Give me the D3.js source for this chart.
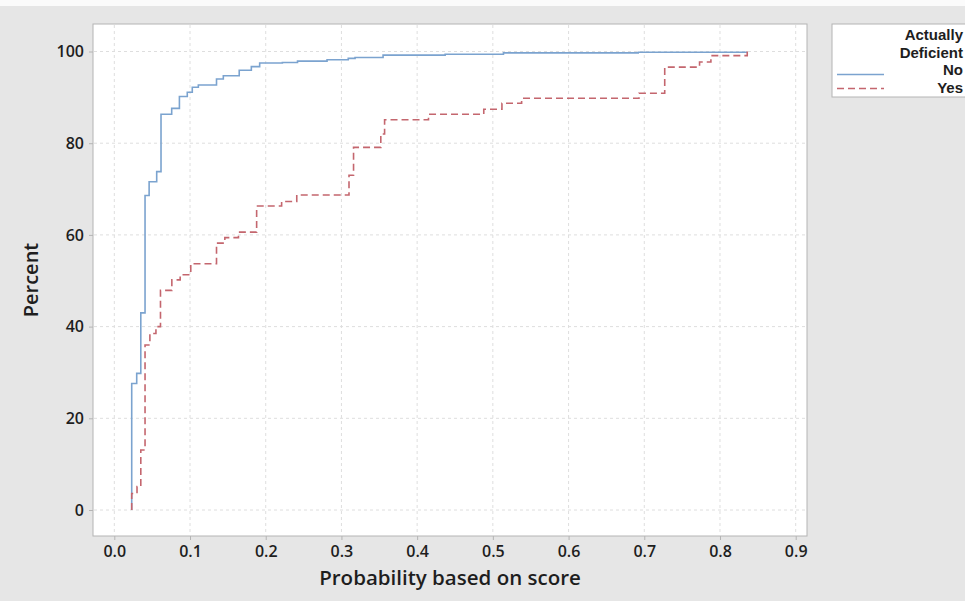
<!DOCTYPE html>
<html>
<head>
<meta charset="utf-8">
<script src="https://cdn.jsdelivr.net/npm/d3@7"></script>
<style>
  body { margin: 0; background: #e6e6e6; }
  svg text { font-family: "Open Sans", "Noto Sans", sans-serif; font-weight: 600; fill: #1e1e1e; }
  svg text.legend-text { font-family: "Liberation Sans", Arial, sans-serif; font-weight: 700; }
</style>
</head>
<body>
<div id="chart"></div>
<script>
// step points: percent reached at each probability (empirical CDF)
var noX  = [0.023, 0.023, 0.0296, 0.035, 0.0406, 0.046, 0.056, 0.0617, 0.0758, 0.086, 0.0964, 0.103, 0.111,
            0.135, 0.144, 0.165, 0.181, 0.192, 0.222, 0.242, 0.281, 0.309, 0.318, 0.355, 0.437, 0.514, 0.692, 0.835, 0.835];
var noY  = [0, 27.6, 29.8, 43.0, 68.6, 71.6, 73.8, 86.3, 87.6, 90.2, 91.1, 92.2, 92.7,
            94.0, 94.7, 95.9, 96.7, 97.5, 97.6, 97.9, 98.2, 98.5, 98.7, 99.2, 99.4, 99.7, 99.85, 100, 100];

var yesX = [0.023, 0.023, 0.030, 0.035, 0.0406, 0.047, 0.055, 0.061, 0.076, 0.087, 0.101, 0.135, 0.146, 0.164,
            0.188, 0.221, 0.241, 0.310, 0.316, 0.352, 0.357, 0.415, 0.488, 0.512, 0.538, 0.693, 0.727, 0.773, 0.788, 0.836, 0.836];
var yesY = [0, 3.6, 5.1, 13.1, 36.0, 38.5, 40.0, 47.9, 50.2, 51.3, 53.7, 58.2, 59.4, 60.6,
            66.3, 67.3, 68.7, 73.0, 79.1, 82.0, 85.1, 86.3, 87.4, 88.7, 89.8, 90.9, 96.6, 97.7, 99.1, 99.1, 100];

var xTicks = [0, 0.1, 0.2, 0.3, 0.4, 0.5, 0.6, 0.7, 0.8, 0.9];
var yTicks = [0, 20, 40, 60, 80, 100];
var legendTitle = ["Actually", "Deficient"];
var seriesNames = ["No", "Yes"];

var svgWidth = 965, svgHeight = 601;
var frame = { left: 93, top: 24, right: 807, bottom: 536 };

var svg = d3.select("#chart").append("svg")
    .attr("width", svgWidth)
    .attr("height", svgHeight);

svg.append("rect").attr("width", svgWidth).attr("height", svgHeight).attr("fill", "#e6e6e6");
svg.append("rect").attr("width", svgWidth).attr("height", 6).attr("fill", "#fbfbfb");

var x = d3.scaleLinear().domain([0, 0.9]).range([114.3, 795.7]);
var y = d3.scaleLinear().domain([0, 100]).range([510, 51.5]);

// plot area
svg.append("rect")
    .attr("x", frame.left).attr("y", frame.top)
    .attr("width", frame.right - frame.left).attr("height", frame.bottom - frame.top)
    .attr("fill", "#ffffff").attr("stroke", "#b4b4b4").attr("stroke-width", 1);

// gridlines
var grid = svg.append("g").attr("stroke", "#dedede").attr("stroke-dasharray", "3,3").attr("stroke-width", 1);
grid.selectAll(".gx").data(xTicks).enter().append("line")
    .attr("x1", d => x(d)).attr("x2", d => x(d))
    .attr("y1", frame.top + 1).attr("y2", frame.bottom - 1);
grid.selectAll(".gy").data(yTicks).enter().append("line")
    .attr("y1", d => y(d)).attr("y2", d => y(d))
    .attr("x1", frame.left + 1).attr("x2", frame.right - 1);

// axes
var xAxis = svg.append("g")
    .attr("transform", `translate(0, ${frame.bottom})`)
    .call(d3.axisBottom(x).tickValues(xTicks).tickFormat(d3.format(".1f")).tickSize(4).tickPadding(6));
var yAxis = svg.append("g")
    .attr("transform", `translate(${frame.left}, 0)`)
    .call(d3.axisLeft(y).tickValues(yTicks).tickSize(4).tickPadding(5));

[xAxis, yAxis].forEach(function(a) {
  a.select(".domain").remove();
  a.selectAll(".tick line").attr("stroke", "#b4b4b4");
  a.selectAll(".tick text").style("font-size", "16px").attr("fill", "#1e1e1e");
});

svg.append("text")
    .attr("x", (frame.left + frame.right) / 2).attr("y", 585)
    .attr("text-anchor", "middle").style("font-size", "20.5px")
    .text("Probability based on score");

svg.append("text")
    .attr("transform", `translate(38, ${(frame.top + frame.bottom) / 2}) rotate(-90)`)
    .attr("text-anchor", "middle").style("font-size", "20px")
    .text("Percent");

// curves
var line = d3.line().x(d => x(d[0])).y(d => y(d[1])).curve(d3.curveStepAfter);

svg.append("path")
    .datum(noX.map((v, i) => [v, noY[i]]))
    .attr("d", line)
    .attr("fill", "none").attr("stroke", "#7ba3cf").attr("stroke-width", 1.6);

svg.append("path")
    .datum(yesX.map((v, i) => [v, yesY[i]]))
    .attr("d", line)
    .attr("fill", "none").attr("stroke", "#c4666e").attr("stroke-width", 1.6)
    .attr("stroke-dasharray", "7,4");

// legend
var legend = svg.append("g");
legend.append("rect")
    .attr("x", 832).attr("y", 24).attr("width", 160).attr("height", 73)
    .attr("fill", "#ffffff").attr("stroke", "#b4b4b4");

var lineStyles = [{ color: "#7ba3cf", dash: null }, { color: "#c4666e", dash: "7,4" }];
seriesNames.forEach(function(name, i) {
  var ly = 74.5 + i * 14;
  legend.append("line")
      .attr("x1", 837).attr("x2", 884).attr("y1", ly).attr("y2", ly)
      .attr("stroke", lineStyles[i].color).attr("stroke-width", 1.6)
      .attr("stroke-dasharray", lineStyles[i].dash);
});

legend.selectAll(".legend-text")
  .data(legendTitle.concat(seriesNames))
  .enter().append("text")
    .attr("class", "legend-text")
    .attr("text-anchor", "end").style("font-size", "15px")
    .attr("x", 963)
    .attr("y", (d, i) => 40 + i * 17.6)
    .text(d => d);
</script>
</body>
</html>
